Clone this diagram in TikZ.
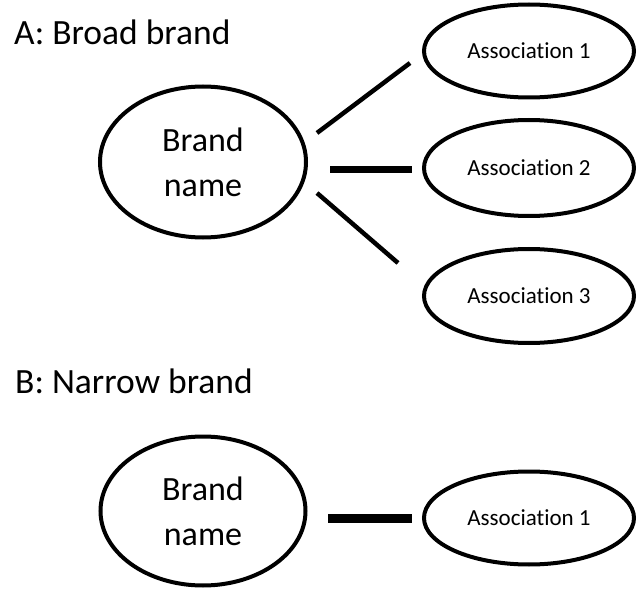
\documentclass[tikz,border=0pt]{standalone}
\usepackage{fontspec}
\setmainfont{Carlito}[Ligatures={NoCommon,NoContextual}]
\usetikzlibrary{shapes.geometric}
\tikzset{
  brandnode/.style={ellipse, draw, line width=4pt, inner sep=0pt, minimum width=206pt, minimum height=151pt, align=center, font=\fontsize{34pt}{45pt}\selectfont},
  assocnode/.style={ellipse, draw, line width=4pt, inner sep=0pt, minimum width=210pt, minimum height=93pt, font=\fontsize{23pt}{28pt}\selectfont},
  titlenode/.style={anchor=base west, inner sep=0pt, font=\fontsize{35.5pt}{42pt}\selectfont},
  conn/.style={line width=4.5pt},
  connthick/.style={line width=7pt},
  connthicker/.style={line width=9pt}
}
\begin{document}
\begin{tikzpicture}[x=1pt,y=-1pt]
\useasboundingbox (0,0) rectangle (638,591);
\fill[white] (0,0) rectangle (638,591);
% Part A
\node[titlenode] (titleA) at (14,45) {A: Broad brand};
\node[brandnode] (brandA) at (203,162) {Brand\\name};
\node[assocnode] (a1) at (529,51) {Association 1};
\node[assocnode, minimum height=96pt] (a2) at (529,168) {Association 2};
\node[assocnode, minimum height=94pt] (a3) at (529,296) {Association 3};
\coordinate (l1s) at (317,133);
\coordinate (l1e) at (410,63);
\coordinate (l2s) at (330,170);
\coordinate (l2e) at (412,170);
\coordinate (l3s) at (317,193);
\coordinate (l3e) at (398,263);
\draw[conn] (l1s) -- (l1e);
\draw[connthick] (l2s) -- (l2e);
\draw[conn] (l3s) -- (l3e);
% Part B
\node[titlenode] (titleB) at (15,393) {B: Narrow brand};
\node[brandnode, minimum width=205pt, minimum height=149pt] (brandB) at (203,511) {Brand\\name};
\node[assocnode] (b1) at (529,518) {Association 1};
\coordinate (l4s) at (328,518);
\coordinate (l4e) at (412,518);
\draw[connthicker] (l4s) -- (l4e);
\end{tikzpicture}
\end{document}
